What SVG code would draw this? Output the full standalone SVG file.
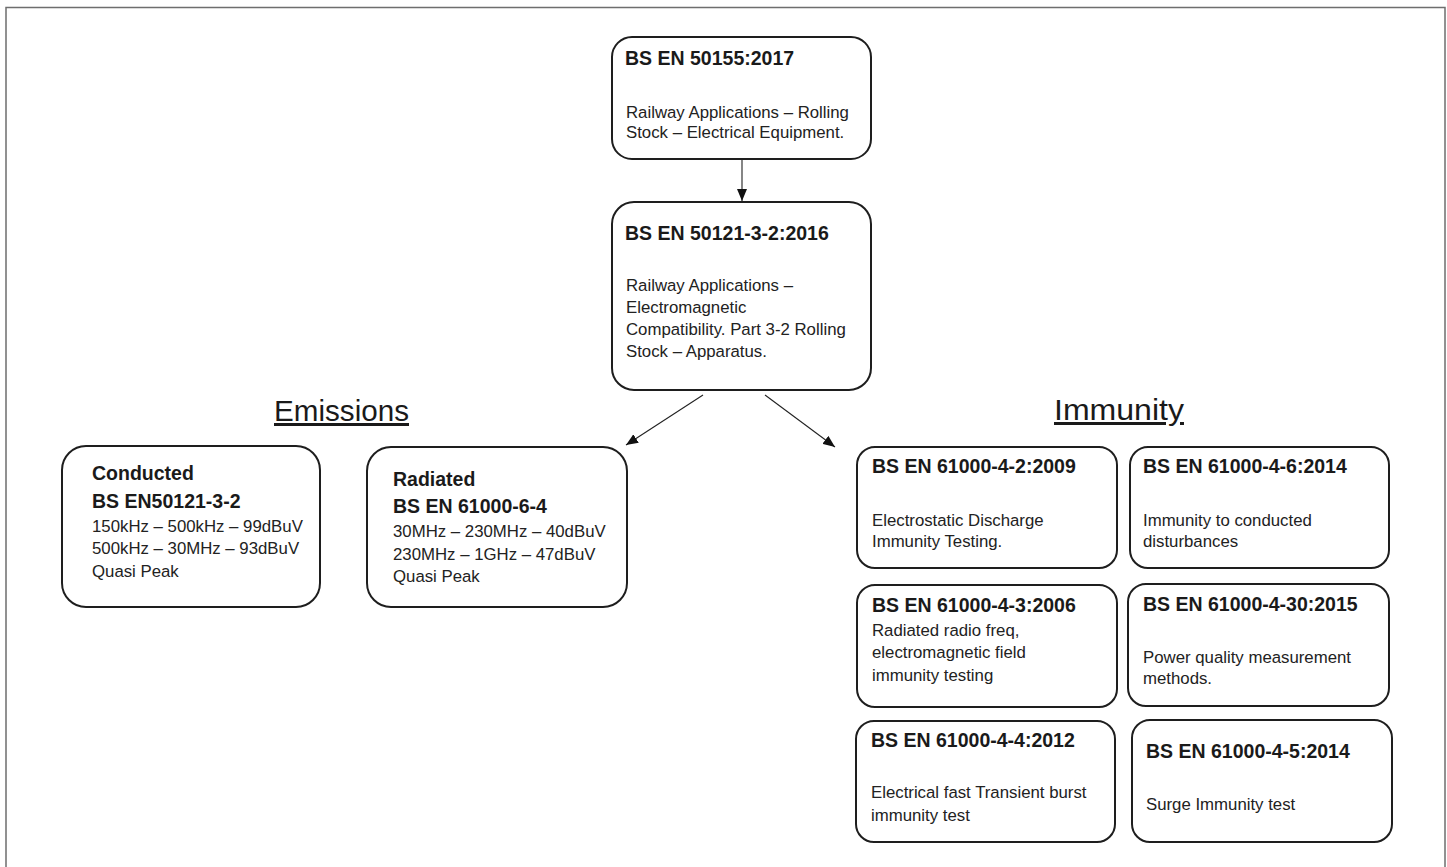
<svg xmlns="http://www.w3.org/2000/svg" width="1447" height="867" viewBox="0 0 1447 867">
<style>
.box{fill:#fff;stroke:#1e1e1e;stroke-width:2}
.h{font-family:"Liberation Sans",Arial,sans-serif;font-weight:bold;font-size:19.5px;fill:#1a1a1a}
.b{font-family:"Liberation Sans",Arial,sans-serif;font-size:16.8px;fill:#222}
.t{font-family:"Liberation Sans",Arial,sans-serif;font-size:30px;fill:#1a1a1a;text-decoration:underline}
.c{stroke:#222;stroke-width:1.1;fill:none;marker-end:url(#ah)}
</style>
<defs>
<marker id="ah" viewBox="0 0 12 10" refX="12" refY="5" markerWidth="12" markerHeight="10" markerUnits="userSpaceOnUse" orient="auto">
<path d="M0,0 L12,5 L0,10 Z" fill="#111"/>
</marker>
</defs>
<rect x="0" y="0" width="1447" height="867" fill="#fff"/>
<rect id="frame" x="6" y="7.5" width="1439" height="900" fill="none" stroke="#6e6e6e" stroke-width="1.5"/>

<g id="connectors">
<line class="c" x1="742" y1="159" x2="742" y2="201"/>
<line class="c" x1="703" y1="395" x2="626" y2="445"/>
<line class="c" x1="765" y1="395" x2="835" y2="447"/>
</g>

<g id="n_50155">
<rect class="box" x="612" y="37" width="259" height="122" rx="20"/>
<text class="h" x="625" y="65">BS EN 50155:2017</text>
<text class="b" x="626" y="118">Railway Applications – Rolling</text>
<text class="b" x="626" y="138">Stock – Electrical Equipment.</text>
</g>

<g id="n_50121">
<rect class="box" x="612" y="202" width="259" height="188" rx="22"/>
<text class="h" x="625" y="240">BS EN 50121-3-2:2016</text>
<text class="b" x="626" y="291">Railway Applications –</text>
<text class="b" x="626" y="313">Electromagnetic</text>
<text class="b" x="626" y="335">Compatibility. Part 3-2 Rolling</text>
<text class="b" x="626" y="357">Stock – Apparatus.</text>
</g>

<g id="lbl_emissions">
<text class="t" x="274" y="421" textLength="135" lengthAdjust="spacingAndGlyphs">Emissions</text>
</g>
<g id="lbl_immunity">
<text class="t" x="1054" y="420" textLength="130" lengthAdjust="spacingAndGlyphs">Immunity</text>
</g>

<g id="n_conducted">
<rect class="box" x="62" y="446" width="258" height="161" rx="24"/>
<text class="h" x="92" y="480">Conducted</text>
<text class="h" x="92" y="508">BS EN50121-3-2</text>
<text class="b" x="92" y="532">150kHz – 500kHz – 99dBuV</text>
<text class="b" x="92" y="554">500kHz – 30MHz – 93dBuV</text>
<text class="b" x="92" y="577">Quasi Peak</text>
</g>

<g id="n_radiated">
<rect class="box" x="367" y="447" width="260" height="160" rx="24"/>
<text class="h" x="393" y="486">Radiated</text>
<text class="h" x="393" y="513">BS EN 61000-6-4</text>
<text class="b" x="393" y="537">30MHz – 230MHz – 40dBuV</text>
<text class="b" x="393" y="560">230MHz – 1GHz – 47dBuV</text>
<text class="b" x="393" y="582">Quasi Peak</text>
</g>

<g id="n_4_2">
<rect class="box" x="857" y="447" width="260" height="121" rx="18"/>
<text class="h" x="872" y="473">BS EN 61000-4-2:2009</text>
<text class="b" x="872" y="526">Electrostatic Discharge</text>
<text class="b" x="872" y="547">Immunity Testing.</text>
</g>

<g id="n_4_6">
<rect class="box" x="1130" y="447" width="259" height="121" rx="18"/>
<text class="h" x="1143" y="473">BS EN 61000-4-6:2014</text>
<text class="b" x="1143" y="526">Immunity to conducted</text>
<text class="b" x="1143" y="547">disturbances</text>
</g>

<g id="n_4_3">
<rect class="box" x="857" y="585" width="260" height="122" rx="18"/>
<text class="h" x="872" y="612">BS EN 61000-4-3:2006</text>
<text class="b" x="872" y="636">Radiated radio freq,</text>
<text class="b" x="872" y="658">electromagnetic field</text>
<text class="b" x="872" y="681">immunity testing</text>
</g>

<g id="n_4_30">
<rect class="box" x="1128" y="584" width="261" height="122" rx="18"/>
<text class="h" x="1143" y="611">BS EN 61000-4-30:2015</text>
<text class="b" x="1143" y="663">Power quality measurement</text>
<text class="b" x="1143" y="684">methods.</text>
</g>

<g id="n_4_4">
<rect class="box" x="856" y="721" width="259" height="121" rx="18"/>
<text class="h" x="871" y="747">BS EN 61000-4-4:2012</text>
<text class="b" x="871" y="798">Electrical fast Transient burst</text>
<text class="b" x="871" y="821">immunity test</text>
</g>

<g id="n_4_5">
<rect class="box" x="1132" y="720" width="260" height="122" rx="18"/>
<text class="h" x="1146" y="758">BS EN 61000-4-5:2014</text>
<text class="b" x="1146" y="810">Surge Immunity test</text>
</g>
</svg>
